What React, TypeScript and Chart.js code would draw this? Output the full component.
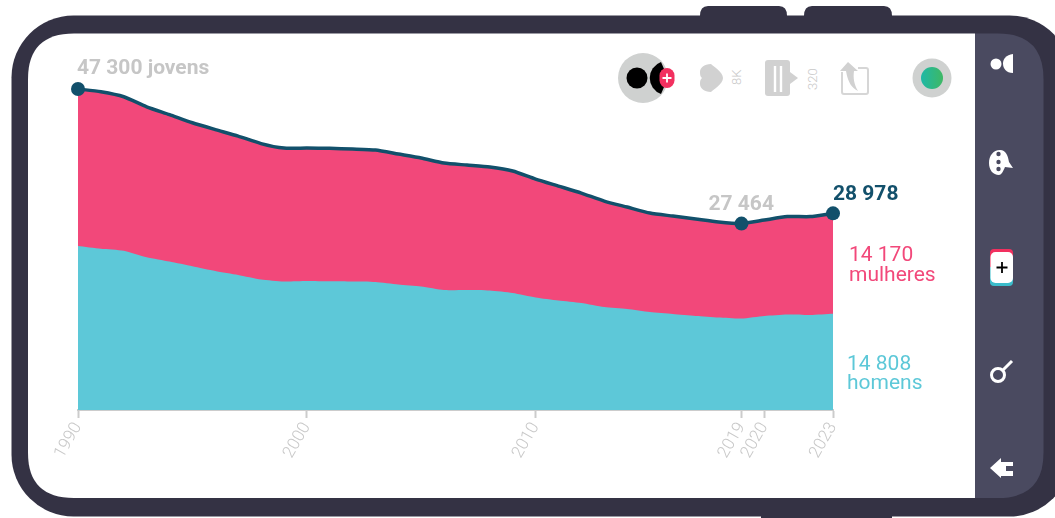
import React, { useEffect, useRef } from "react";
import { Chart, registerables } from "chart.js";

Chart.register(...registerables);

const years = [1990,1991,1992,1993,1994,1995,1996,1997,1998,1999,2000,2001,2002,2003,2004,2005,2006,2007,2008,2009,2010,2011,2012,2013,2014,2015,2016,2017,2018,2019,2020,2021,2022,2023];
const homens = [23126,23126,22684,22169,21653,21138,20843,20475,20033,19665,19591,19591,19517,19444,19223,18928,18707,18413,18192,17971,17455,16866,16203,15614,15025,14583,14435,14288,14067,13994,14141,14435,14509,14808];
const mulheres = [24174,23760,23466,22507,21874,21181,20475,19885,19222,18928,19002,18957,18928,18854,18486,18192,17676,17676,17602,17234,16571,16129,15761,15172,14877,14435,14141,13846,13625,13470,13846,14068,13994,14170];
const total = [47300,46885,46150,44676,43527,42319,41318,40360,39255,38593,38593,38548,38445,38298,37709,37120,36383,36089,35794,35205,34026,32995,31964,30786,29902,29018,28576,28134,27692,27464,27987,28503,28503,28978];
const tickYears = [1990, 2000, 2010, 2019, 2020, 2023];
const highlightYears = [1990, 2019, 2023];

const NAVY = "#12506b";
const PINK = "#f2487a";
const CYAN = "#5dc8d8";
const GREY = "#c6c6c6";

const labelsPlugin = {
  id: "valueLabels",
  afterDraw(chart: any) {
    const { ctx, scales } = chart;
    const x = scales.x;
    const y = scales.y;
    const put = (t: string, px: number, py: number, font: string, color: string) => {
      ctx.save();
      ctx.font = font;
      ctx.fillStyle = color;
      ctx.textAlign = "left";
      ctx.textBaseline = "alphabetic";
      ctx.fillText(t, px, py);
      ctx.restore();
    };
    const bold = "700 21px Roboto";
    const reg = "400 21px Roboto";
    put("47 300 jovens", x.getPixelForValue(1990) - 1, y.getPixelForValue(47300) - 15, bold, GREY);
    put("27 464", x.getPixelForValue(2019) - 33, y.getPixelForValue(27464) - 14, bold, GREY);
    put("28 978", x.getPixelForValue(2023), y.getPixelForValue(28978) - 13, bold, NAVY);
    const rx = x.getPixelForValue(2023);
    put("14 170", rx + 16, 261, reg, PINK);
    put("mulheres", rx + 16, 281, reg, PINK);
    put("14 808", rx + 14, 370, reg, CYAN);
    put("homens", rx + 14, 389, reg, CYAN);
  },
};

function Phone() {
  return (
    <svg width={1055} height={518} style={{ position: "absolute", left: 0, top: 0 }}>
      <defs>
        <linearGradient id="dot" x1="0" x2="1" y1="0" y2="0">
          <stop offset="0" stopColor="#1fb8a6" />
          <stop offset="1" stopColor="#3eb864" />
        </linearGradient>
        <linearGradient id="card" x1="0" x2="0" y1="0" y2="1">
          <stop offset="0" stopColor="#f2305f" />
          <stop offset="0.5" stopColor="#f2305f" />
          <stop offset="0.5" stopColor="#3bbccb" />
          <stop offset="1" stopColor="#3bbccb" />
        </linearGradient>
      </defs>
      <path d="M708 6H779Q787 6 787 16H700Q700 6 708 6Z" fill="#343244" />
      <path d="M812 6H884Q892 6 892 16H804Q804 6 812 6Z" fill="#343244" />
      <rect x={761} y={510} width={131} height={8} fill="#343244" />
      <rect x={11.5} y={15.5} width={1060} height={501} rx={62} fill="#343244" />
      <path d="M975 33.5H998Q1043.5 33.5 1043.5 79V453Q1043.5 498 998 498H975Z" fill="#4a4a60" />
      <path d="M975 33.5H74Q28 33.5 28 79V453Q28 498 74 498H975Z" fill="#fff" />

      {/* top icons */}
      <circle cx={643} cy={78} r={25} fill="#cfd1d0" />
      <circle cx={637} cy={78} r={10.5} fill="#000" />
      <path d="M661 62A17 17 0 0 0 661 94L668 78Z" fill="#000" />
      <rect x={659.5} y={68} width={15} height={20} rx={7.5} fill="#f2305f" />
      <path d="M667 73.5V82.5M662.5 78H671.5" stroke="#fff" strokeWidth={1.8} />
      <path d="M711 64C704 64 700 68 700 72C700 76 701 77 702 78C701 79 700 80 700 84C700 88 704 92 711 92C713 90 723 84 723 78C723 72 713 66 711 64Z" fill="#d1d1d1" />
      <rect x={765} y={60} width={25} height={36} rx={3} fill="#d1d1d1" />
      <path d="M790 72L798 78L790 84Z" fill="#d1d1d1" />
      <path d="M775 66V92M781 66V92" stroke="#fff" strokeWidth={2.4} />
      <path d="M842 72V92Q842 94 844 94H866Q868 94 868 92V70Q868 68 866 68H858" fill="none" stroke="#d6d6d6" strokeWidth={2} />
      <path d="M848 62L840 71H846C848 83 852 88 858 91C854 84 853 78 854 71H858Z" fill="#d1d1d1" />
      <circle cx={932} cy={78} r={19.5} fill="#cfd1d0" />
      <circle cx={932} cy={78} r={11} fill="url(#dot)" />

      {/* side icons */}
      <circle cx={996} cy={64} r={5.5} fill="#fff" />
      <path d="M1013 54V73C1006 73 1003 68 1003 63.5C1003 59 1006 55 1013 54Z" fill="#fff" />
      <path d="M1000 150C1006 150 1008 156 1009 162L1013 168L1005 167C1003 172 1001 175 999 175C993 175 989 170 989 163C989 156 993 150 1000 150Z" fill="#fff" />
      <circle cx={998.5} cy={154} r={2.2} fill="#4a4a60" />
      <circle cx={998.5} cy={162} r={2.2} fill="#4a4a60" />
      <circle cx={998.5} cy={169} r={2.2} fill="#4a4a60" />
      <rect x={990} y={249} width={23} height={37} rx={4} fill="url(#card)" />
      <rect x={990.5} y={252} width={22.5} height={31} rx={5} fill="#fff" />
      <path d="M1002 262V273M996.5 267.5H1007.5" stroke="#000" strokeWidth={1.8} />
      <circle cx={998} cy={375} r={6.5} fill="none" stroke="#fff" strokeWidth={3} />
      <path d="M1003 370L1012 361" stroke="#fff" strokeWidth={3} />
      <path d="M990 468L1001 458V462H1013V466H1006V471H1013V476H1001V478Z" fill="#fff" />

      <text x={0} y={0} transform="translate(741,85) rotate(-90)" fontFamily="Roboto" fontWeight={300} fontSize={13} fill="#c8c8c8">8K</text>
      <text x={0} y={0} transform="translate(817,90) rotate(-90)" fontFamily="Roboto" fontWeight={300} fontSize={13} fill="#c8c8c8">320</text>
    </svg>
  );
}

export default function App() {
  const ref = useRef<HTMLCanvasElement | null>(null);
  useEffect(() => {
    const pts = (vals: number[]) => years.map((yr, i) => ({ x: yr, y: vals[i] }));
    const chart = new Chart(ref.current as HTMLCanvasElement, {
      type: "line",
      data: {
        datasets: [
          {
            label: "total",
            data: pts(total),
            stack: "total",
            borderColor: NAVY,
            borderWidth: 3.5,
            fill: false,
            tension: 0.2,
            clip: false,
            pointBackgroundColor: NAVY,
            pointBorderWidth: 0,
            pointRadius: (c: any) => (highlightYears.includes(c.raw?.x) ? 7 : 0),
          },
          {
            label: "mulheres",
            data: pts(mulheres),
            stack: "pop",
            borderWidth: 0,
            backgroundColor: PINK,
            fill: "+1",
            tension: 0.2,
            pointRadius: 0,
          },
          {
            label: "homens",
            data: pts(homens),
            stack: "pop",
            borderWidth: 0,
            backgroundColor: CYAN,
            fill: "origin",
            tension: 0.2,
            pointRadius: 0,
          },
        ],
      } as any,
      options: {
        responsive: false,
        animation: false,
        layout: { padding: { left: 78, right: 222, top: 34, bottom: 0 } },
        plugins: { legend: { display: false }, tooltip: { enabled: false } },
        scales: {
          x: {
            type: "linear",
            min: 1990,
            max: 2023,
            afterBuildTicks: (axis: any) => {
              axis.ticks = tickYears.map((v) => ({ value: v }));
            },
            afterFit: (axis: any) => {
              axis.height = 108;
            },
            grid: { drawOnChartArea: false, drawTicks: true, tickLength: 8, tickColor: "#cccccc", tickWidth: 2 },
            border: { color: "#cccccc", width: 2 },
            ticks: {
              autoSkip: false,
              minRotation: 60,
              maxRotation: 60,
              padding: 1,
              color: "#c8c8c8",
              font: { family: "Roboto", size: 17, weight: "300" },
              callback: (v: any) => String(v),
            },
          },
          y: { display: false, stacked: true, min: 0, max: 55400 },
        },
      } as any,
      plugins: [labelsPlugin],
    });
    return () => chart.destroy();
  }, []);
  return (
    <div style={{ position: "fixed", left: 0, top: 0, width: 1055, height: 518, overflow: "hidden", background: "#fff" }}>
      <Phone />
      <canvas ref={ref} width={1055} height={518} style={{ position: "absolute", left: 0, top: 0, background: "transparent" }} />
    </div>
  );
}
